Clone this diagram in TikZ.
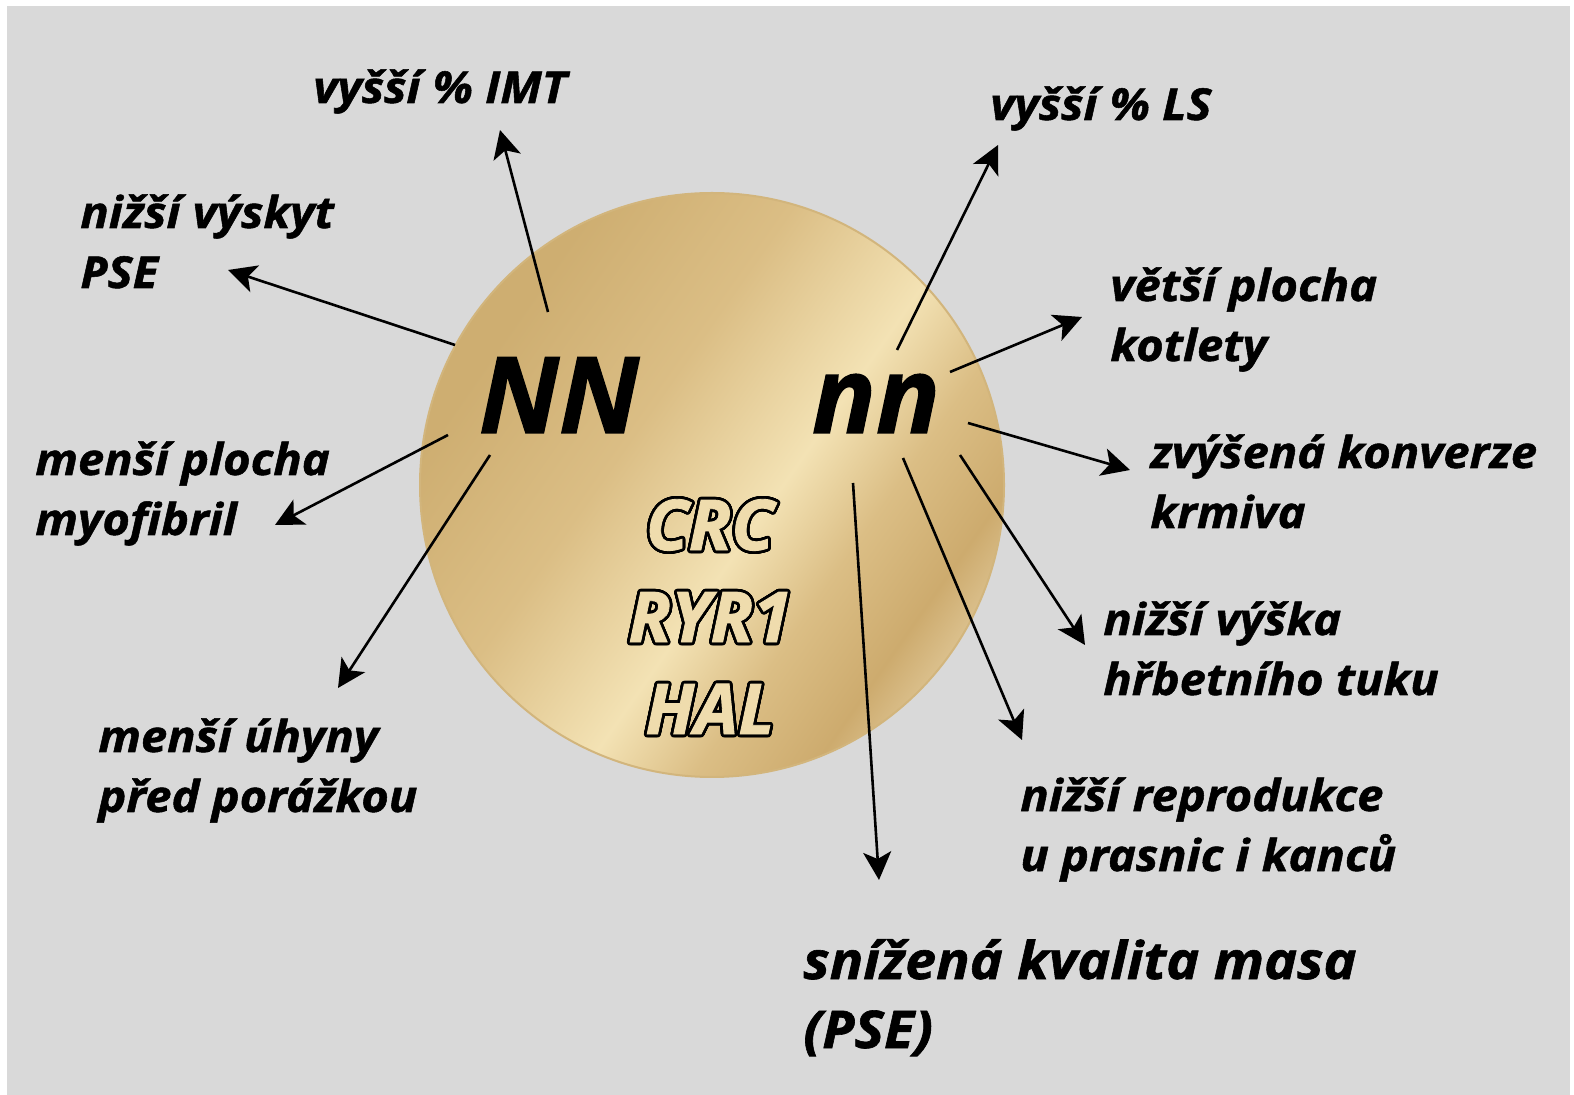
\documentclass[tikz,border=0pt]{standalone}
\usepackage{fontspec}
\setmainfont{Open Sans}[BoldItalicFeatures={FakeBold=1.2}]
\newfontfamily\lblfont{Open Sans}[FakeStretch=1.07, BoldItalicFeatures={FakeBold=1.2}]
\usepackage[copies]{contour}
\usetikzlibrary{arrows.meta}

\definecolor{bggray}{HTML}{D9D9D9}
\definecolor{goldA}{HTML}{CEAE71}
\definecolor{goldB}{HTML}{DBBE85}
\definecolor{goldC}{HTML}{F3E2B4}
\definecolor{goldD}{HTML}{CDAB6E}
\definecolor{goldE}{HTML}{F3E5C2}
\definecolor{goldrim}{HTML}{D2B57C}
\definecolor{genefill}{HTML}{EFDCAD}

\pgfdeclarehorizontalshading{goldcoin}{100bp}{color(0bp)=(goldA); color(28bp)=(goldA); color(42bp)=(goldB); color(55bp)=(goldC); color(63bp)=(goldB); color(71bp)=(goldD); color(82bp)=(goldE); color(100bp)=(goldE)}

\contourlength{1.4pt}
\contournumber{32}

\tikzset{
  lbl/.style={font=\lblfont\fontsize{22}{30}\selectfont\bfseries\itshape, align=left, anchor=base west, inner sep=0pt},
  geno/.style={font=\fontsize{53}{53}\selectfont\bfseries\itshape, anchor=base, inner sep=0pt},
  gene/.style={font=\fontsize{35}{46}\selectfont\bfseries\itshape, text=genefill, align=center, anchor=base, inner sep=0pt},
  arr/.style={line width=1.3pt, -{Stealth[length=14pt,width=14pt,inset=3.5pt]}}
}

\begin{document}
\begin{tikzpicture}[x=0.5pt,y=-0.5pt]
\useasboundingbox (0,0) rectangle (1574,1095);
\fill[white] (0,0) rectangle (1574,1095);
\fill[bggray] (7,6) rectangle (1570,1095);

\shade[shading=goldcoin, shading angle=-35] (712,485) circle (292);
\draw[goldrim, line width=1pt] (712,485) circle (292);

\node[geno] (NN) at (559,433) {NN};
\node[geno] (nn) at (876,433) {nn};
\node[gene] (genes) at (710,734) {\contour{black}{CRC}\\\contour{black}{RYR1}\\\contour{black}{HAL}};

\node[lbl] (imt) at (313,103) {vyšší \% IMT};
\node[lbl] (pse) at (80,288) {nižší výskyt\\PSE};
\node[lbl] (myo) at (35,535) {menší plocha\\myofibril};
\node[lbl] (uhyny) at (98,812) {menší úhyny\\před porážkou};
\node[lbl] (ls) at (990,120) {vyšší \% LS};
\node[lbl] (kotlety) at (1110,361) {větší plocha\\kotlety};
\node[lbl] (konverze) at (1150,528) {zvýšená konverze\\krmiva};
\node[lbl] (vyska) at (1103,695) {nižší výška\\hřbetního tuku};
\node[lbl] (repro) at (1020,871) {nižší reprodukce\\u prasnic i kanců};
\node[lbl, font=\lblfont\fontsize{26}{34.5}\selectfont\bfseries\itshape] (kvalita) at (803,1048) {snížená kvalita masa\\(PSE)};

\coordinate (s1) at (548,312);
\coordinate (t1) at (500,130);
\coordinate (s2) at (455,345);
\coordinate (t2) at (228,270);
\coordinate (s3) at (448,435);
\coordinate (t3) at (275,525);
\coordinate (s4) at (490,455);
\coordinate (t4) at (338,688);
\coordinate (s5) at (897,350);
\coordinate (t5) at (998,145);
\coordinate (s6) at (950,372);
\coordinate (t6) at (1082,317);
\coordinate (s7) at (968,423);
\coordinate (t7) at (1130,470);
\coordinate (s8) at (960,455);
\coordinate (t8) at (1085,645);
\coordinate (s9) at (903,458);
\coordinate (t9) at (1022,740);
\coordinate (s10) at (853,483);
\coordinate (t10) at (879,880);

\foreach \i in {1,...,10}
  \draw[arr] (s\i) -- (t\i);
\end{tikzpicture}
\end{document}
